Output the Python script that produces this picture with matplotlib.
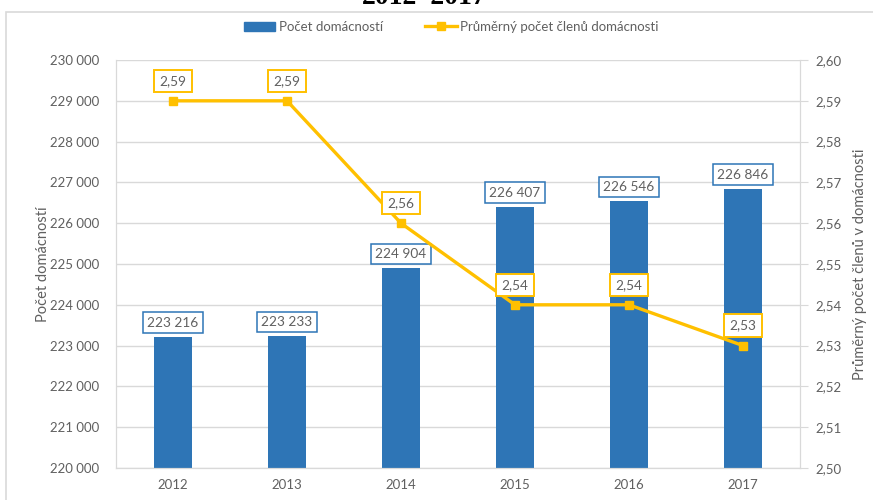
import matplotlib
matplotlib.use("Agg")
import matplotlib.pyplot as plt
from matplotlib.patches import Rectangle
from matplotlib.ticker import FuncFormatter, MultipleLocator

years = ["2012", "2013", "2014", "2015", "2016", "2017"]
households = [223216, 223233, 224904, 226407, 226546, 226846]
avg_members = [2.59, 2.59, 2.56, 2.54, 2.54, 2.53]
bar_labels = ["223 216", "223 233", "224 904", "226 407", "226 546", "226 846"]
line_labels = ["2,59", "2,59", "2,56", "2,54", "2,54", "2,53"]

BLUE = "#2E75B6"
GOLD = "#FFC000"
GRAY = "#606060"
GRID = "#D9D9D9"

plt.rcParams['font.family'] = ['Lato', 'DejaVu Sans']

fig = plt.figure(figsize=(8.73, 5.0), dpi=100)
ax = fig.add_axes([116/873, 1 - 468/500, (800-116)/873, (468-60)/500])
ax2 = ax.twinx()

x = list(range(len(years)))
ax.bar(x, households, width=0.33, color=BLUE, zorder=2)
ax.set_ylim(220000, 230000)
ax.set_xlim(-0.5, len(years) - 0.5)
ax.yaxis.set_major_locator(MultipleLocator(1000))
ax.yaxis.set_major_formatter(FuncFormatter(lambda v, p: f"{int(v):,}".replace(",", " ")))
ax.set_xticks(x)
ax.set_xticklabels(years)
ax.grid(axis='y', color=GRID, lw=1, zorder=0)
ax.tick_params(axis='y', length=0, colors=GRAY, labelsize=9.5, pad=12)
ax.tick_params(axis='x', length=0, colors=GRAY, labelsize=9.5, pad=8)
for s in ['left', 'bottom', 'right', 'top']:
    ax.spines[s].set_color(GRID)
ax.spines['top'].set_visible(False)
ax.set_ylabel("Počet domácností", color=GRAY, fontsize=10.5, labelpad=0)

for xi, v, lab in zip(x, households, bar_labels):
    ax.annotate(lab, (xi, v), xytext=(0, 14), textcoords='offset pixels',
                ha='center', va='center', fontsize=9.8, color=GRAY, zorder=5,
                bbox=dict(boxstyle='square,pad=0.32', fc='white', ec=BLUE, lw=1.1))

ax2.plot(x, avg_members, color=GOLD, lw=2.4, marker='s', markersize=6,
         markerfacecolor=GOLD, markeredgecolor=GOLD, zorder=3)
ax2.set_ylim(2.50, 2.60)
ax2.yaxis.set_major_locator(MultipleLocator(0.01))
ax2.yaxis.set_major_formatter(FuncFormatter(lambda v, p: f"{v:.2f}".replace(".", ",")))
ax2.tick_params(axis='y', length=6, colors=GRAY, labelsize=9.5, pad=5)
ax2.tick_params(axis='y', color=GRID)
for s in ['left', 'bottom', 'right', 'top']:
    ax2.spines[s].set_color(GRID)
ax2.spines['top'].set_visible(False)
ax2.set_ylabel("Průměrný počet členů v domácnosti", color=GRAY, fontsize=10.5,
               rotation=90, labelpad=8)
for xi, v, lab in zip(x, avg_members, line_labels):
    ax2.annotate(lab, (xi, v), xytext=(0, 20), textcoords='offset pixels',
                 ha='center', va='center', fontsize=9.8, color=GRAY, zorder=5,
                 bbox=dict(boxstyle='square,pad=0.38', fc='white', ec=GOLD, lw=1.4))

# legend
h1 = Rectangle((0, 0), 1, 1, color=BLUE)
h2, = ax2.plot([], [], color=GOLD, lw=2.4, marker='s', markersize=6)
fig.legend([h1, h2], ["Počet domácností", "Průměrný počet členů domácnosti"],
           loc='center', bbox_to_anchor=(451/873, 1 - 27/500), ncol=2, frameon=False,
           fontsize=9.5, labelcolor=GRAY, handlelength=2.4, columnspacing=3.2,
           handletextpad=0.25)

# chart frame
fig.patches.append(Rectangle((6/873, -0.01), 1.0, 1 - 12/500 + 0.01,
                             transform=fig.transFigure, fill=False, ec=GRID, lw=1.2))

# clipped title at top (only its lower part is visible in the reference)
fig.text(424/873, 1 - 3.5/500, "2012–2017", ha='center', va='baseline', fontsize=20,
         fontweight='bold', family=['Liberation Serif', 'DejaVu Serif'], color='black')

fig.savefig("out.png", dpi=100)
